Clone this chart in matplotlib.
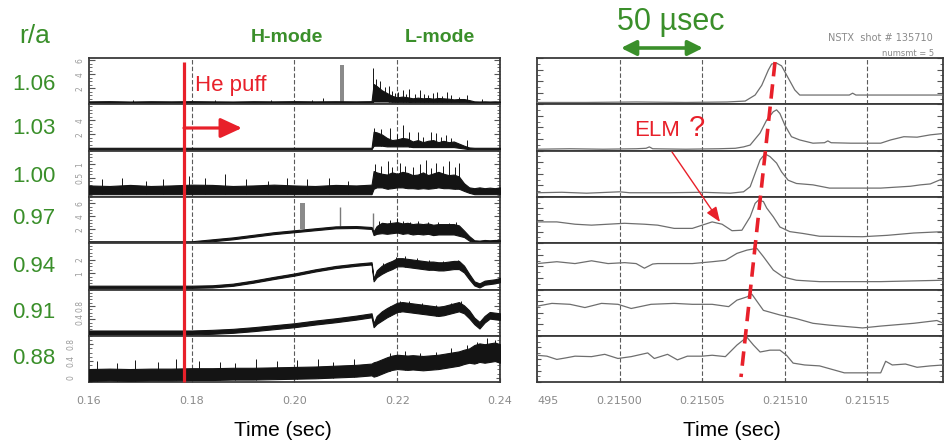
import numpy as np
import matplotlib
matplotlib.use('Agg')
import matplotlib.pyplot as plt
from matplotlib.ticker import AutoMinorLocator, MultipleLocator

W, H = 951, 441
TOP, STRIP = 58.0, 46.3
XL = (89, 500)
XR = (537, 943)

GREEN = '#3a8f2a'
RED = '#e8202a'
INK = '#141414'
FONT = ['Liberation Sans', 'DejaVu Sans']

radii = ['1.06', '1.03', '1.00', '0.97', '0.94', '0.91', '0.88']

# ---- left panel: full discharge, shared time base (s) ----
t_left = [0.160, 0.164, 0.168, 0.172, 0.176, 0.180, 0.184, 0.188, 0.192, 0.196,
          0.200, 0.204, 0.208, 0.212, 0.2150, 0.2154, 0.216, 0.217, 0.218, 0.219,
          0.220, 0.221, 0.222, 0.223, 0.224, 0.225, 0.226, 0.227, 0.228, 0.229,
          0.230, 0.231, 0.232, 0.233, 0.234, 0.235, 0.236, 0.237, 0.238, 0.239, 0.240]

# r/a = 1.06, 1.03, 1.00 : noise envelope
lo_106 = [-0.1] * 15 + [0.1, 0.1, 0.1, 0.1, 0.05, 0.05, 0.05, 0.05] + [0.0] * 11 + [-0.05] + [-0.1] * 6
hi_106 = [0.12, 0.15, 0.1, 0.14, 0.12, 0.15, 0.12, 0.1, 0.14, 0.12, 0.15, 0.12, 0.14, 0.12, 0.15,
          2.6, 2.3, 1.7, 1.3, 0.9, 0.7, 0.8, 0.7, 0.55, 0.65, 0.55, 0.6, 0.5, 0.6, 0.55,
          0.5, 0.4, 0.45, 0.45, 0.3, 0.12, 0.1, 0.12, 0.1, 0.12, 0.1]
lo_103 = [-0.1] * 15 + [0.4, 0.4, 0.4, 0.3, 0.3, 0.3, 0.3, 0.3] + [0.2] * 9 + [0.1, 0.0, -0.1] + [-0.1] * 6
hi_103 = [0.1] * 15 + [2.4, 2.3, 2.0, 1.5, 1.2, 1.3, 1.5, 1.4, 1.0, 1.2, 0.9, 1.1, 1.2, 0.9, 1.1,
                       0.9, 1.0, 0.7, 0.4, 0.15] + [0.1] * 6
lo_100 = [-0.1] * 15 + [0.1, 0.15, 0.15, 0.1, 0.12, 0.15, 0.15, 0.12, 0.12, 0.1, 0.12, 0.1, 0.12,
                        0.15, 0.12, 0.12, 0.1, 0.1, 0.02, -0.05] + [-0.1] * 6
hi_100 = [0.22, 0.2, 0.24, 0.2, 0.22, 0.25, 0.24, 0.2, 0.22, 0.25, 0.22, 0.2, 0.24, 0.22, 0.25,
          0.75, 0.7, 0.65, 0.62, 0.7, 0.65, 0.72, 0.68, 0.6, 0.62, 0.7, 0.6, 0.66, 0.72, 0.65,
          0.6, 0.62, 0.55, 0.3, 0.15, 0.12, 0.15, 0.12, 0.14, 0.12, 0.15]

# r/a = 0.97 .. 0.88 : mean level and noise half width
mid_097 = [0, 0, 0, 0, 0, 0, 0.3, 0.6, 1.0, 1.4, 1.7, 2.0, 2.3, 2.35, 2.2,
           1.4, 1.9, 2.2, 2.1, 2.2, 2.3, 2.1, 2.2, 2.0, 2.1, 2.0, 2.1, 1.9, 2.0, 2.0,
           2.0, 2.0, 1.8, 1.3, 0.6, 0.1, 0.05, 0.15, 0.1, 0.15, 0.12]
amp_097 = [0.15] * 15 + [0.3, 0.6] + [0.8] * 16 + [0.5, 0.35] + [0.2] * 6
mid_094 = [0, 0, 0, 0, 0, 0, 0.03, 0.15, 0.38, 0.65, 0.9, 1.2, 1.45, 1.62, 1.72,
           0.5, 0.95, 1.25, 1.45, 1.6, 1.8, 1.8, 1.75, 1.7, 1.65, 1.6, 1.55, 1.55, 1.5, 1.5,
           1.55, 1.6, 1.6, 1.3, 0.75, 0.25, 0.1, 0.3, 0.35, 0.4, 0.5]
amp_094 = [0.08] * 15 + [0.1, 0.25] + [0.3] * 16 + [0.25, 0.2] + [0.15] * 6
mid_091 = [0, 0, 0, 0, 0, 0, 0.02, 0.05, 0.1, 0.16, 0.22, 0.3, 0.37, 0.45, 0.52,
           0.22, 0.38, 0.5, 0.6, 0.68, 0.76, 0.78, 0.76, 0.74, 0.72, 0.7, 0.68, 0.66, 0.64, 0.66,
           0.7, 0.74, 0.78, 0.7, 0.55, 0.35, 0.22, 0.4, 0.52, 0.5, 0.48]
amp_091 = [0.06] * 16 + [0.12] + [0.14] * 16 + [0.12, 0.12] + [0.1] * 6
mid_088 = [0.07, 0.08, 0.07, 0.08, 0.08, 0.09, 0.09, 0.1, 0.1, 0.11,
           0.12, 0.13, 0.15, 0.17, 0.2, 0.2, 0.22, 0.27, 0.32, 0.36,
           0.38, 0.37, 0.36, 0.37, 0.36, 0.35, 0.36, 0.37, 0.38, 0.4,
           0.42, 0.44, 0.46, 0.5, 0.53, 0.56, 0.6, 0.58, 0.6, 0.62, 0.58]
amp_088 = [0.14] * 15 + [0.17] * 20 + [0.22] * 6

# isolated spikes (time, peak value)
spk_t_106 = [0.1685, 0.1785, 0.1845, 0.1955, 0.2035, 0.2056, 0.2152, 0.2158, 0.2166, 0.2176,
             0.2183, 0.2190, 0.2196, 0.2202, 0.2212, 0.2218, 0.2222, 0.2235, 0.2245, 0.2252,
             0.2260, 0.2270, 0.2277, 0.2288, 0.2297, 0.2305, 0.2320, 0.2335, 0.2365]
spk_h_106 = [0.3, 0.35, 0.3, 0.3, 0.35, 0.6, 4.9, 3.3, 3.0, 2.2,
             2.3, 1.6, 1.3, 1.5, 1.8, 1.2, 1.9, 1.1, 1.8, 1.2,
             1.0, 1.3, 1.5, 0.9, 1.5, 1.0, 0.8, 1.0, 0.4]
spk_t_103 = [0.2155, 0.2168, 0.2185, 0.2200, 0.2212, 0.2222, 0.2240, 0.2250, 0.2265, 0.2275,
             0.2285, 0.2295, 0.2305, 0.2335]
spk_h_103 = [2.9, 2.8, 2.9, 2.0, 3.4, 2.4, 2.4, 1.7, 2.3, 2.2, 1.6, 1.9, 1.5, 1.2]
spk_t_100 = [0.1625, 0.1665, 0.1710, 0.1745, 0.1795, 0.1825, 0.1865, 0.1905, 0.1948, 0.1985,
             0.2025, 0.2068, 0.2105, 0.2157, 0.2168, 0.2182, 0.2190, 0.2206, 0.2215, 0.2230,
             0.2245, 0.2255, 0.2265, 0.2275, 0.2290, 0.2300, 0.2312, 0.2320]
spk_h_100 = [0.45, 0.5, 0.4, 0.45, 0.55, 0.5, 0.65, 0.45, 0.4, 0.5,
             0.45, 0.5, 0.4, 1.0, 0.95, 1.1, 0.9, 1.05, 0.95, 0.9,
             1.0, 1.15, 0.85, 1.05, 0.95, 1.1, 0.9, 1.05]
spk_t_097 = [0.2165, 0.2185, 0.2200, 0.2212, 0.2225, 0.2240, 0.2260, 0.2280, 0.2300, 0.2315]
spk_h_097 = [3.3, 3.4, 3.7, 3.3, 3.2, 3.3, 3.1, 3.2, 3.0, 3.1]
spk_t_094 = [0.2172, 0.2198, 0.2215, 0.2238, 0.2262, 0.2290, 0.2318]
spk_h_094 = [1.75, 2.2, 2.25, 2.1, 1.95, 1.9, 2.0]
spk_t_091 = [0.2185, 0.2205, 0.2222, 0.2248, 0.2275, 0.2305, 0.2325]
spk_h_091 = [0.8, 0.95, 0.95, 0.9, 0.82, 0.9, 0.96]
spk_t_088 = [0.1615, 0.1655, 0.1690, 0.1735, 0.1770, 0.1815, 0.1855, 0.1885, 0.1925, 0.1965,
             0.2005, 0.2045, 0.2075, 0.2115, 0.2185, 0.2215, 0.2245, 0.2275, 0.2305, 0.2335,
             0.2355, 0.2375, 0.2390]
spk_h_088 = [0.4, 0.35, 0.42, 0.38, 0.45, 0.4, 0.38, 0.36, 0.45, 0.4,
             0.42, 0.45, 0.38, 0.46, 0.6, 0.65, 0.6, 0.62, 0.7, 0.78,
             0.85, 0.95, 0.9]

# grey bursts
bar_t_106, bar_h_106 = [0.20925], [5.3]
bar_t_097, bar_h_097 = [0.20155], [6.0]
thin_t_097, thin_h_097 = [0.2089, 0.2152], [5.5, 4.5]
BAR_W = 0.0009

# ---- right panel: zoom on the ELM, time in us after T0 ----
T0 = 0.21495
us_106 = [0, 30, 60, 90, 115, 126, 132, 136, 140, 142, 145, 148, 152, 156, 159, 175, 189, 191, 193, 215, 246]
v_106 = [0.04, 0.04, 0.05, 0.04, 0.05, 0.07, 0.2, 0.41, 0.74, 0.87, 0.89, 0.83, 0.57, 0.31, 0.2,
         0.2, 0.2, 0.24, 0.2, 0.2, 0.2]
us_103 = [0, 20, 40, 60, 66, 68, 70, 90, 110, 120, 125, 129, 135, 139, 143, 145, 147, 150, 154, 159,
          167, 174, 176, 178, 190, 208, 214, 222, 230, 238, 246]
v_103 = [0.03, 0.04, 0.03, 0.04, 0.05, 0.08, 0.04, 0.03, 0.04, 0.05, 0.08, 0.12, 0.38, 0.66, 0.84,
         0.88, 0.8, 0.55, 0.3, 0.23, 0.16, 0.17, 0.21, 0.17, 0.16, 0.16, 0.23, 0.3, 0.29, 0.34, 0.37]
us_100 = [0, 15, 30, 50, 56, 80, 100, 117, 125, 129, 132, 135, 138, 141, 145, 148, 152, 157, 167,
          177, 208, 226, 232, 238, 246]
v_100 = [0.09, 0.1, 0.08, 0.11, 0.09, 0.09, 0.1, 0.08, 0.11, 0.22, 0.51, 0.8, 0.93, 0.87, 0.73,
         0.54, 0.36, 0.29, 0.26, 0.19, 0.19, 0.23, 0.26, 0.28, 0.4]
us_097 = [0, 12, 23, 33, 43, 53, 65, 73, 83, 94, 100, 106, 112, 118, 124, 129, 132, 134, 137, 139,
          143, 147, 153, 161, 171, 197, 212, 228, 246]
v_097 = [0.46, 0.46, 0.41, 0.39, 0.41, 0.43, 0.41, 0.39, 0.32, 0.32, 0.39, 0.46, 0.41, 0.27, 0.28,
         0.57, 0.86, 0.93, 0.9, 0.76, 0.57, 0.35, 0.25, 0.21, 0.15, 0.14, 0.17, 0.22, 0.25]
us_094 = [0, 12, 23, 33, 43, 53, 60, 65, 70, 73, 83, 94, 106, 114, 121, 127, 133, 137, 143, 149,
          157, 171, 208, 246]
v_094 = [0.56, 0.6, 0.56, 0.62, 0.56, 0.58, 0.56, 0.46, 0.55, 0.56, 0.56, 0.56, 0.6, 0.63, 0.78,
         0.85, 0.89, 0.71, 0.42, 0.27, 0.2, 0.17, 0.17, 0.2]
us_091 = [0, 9, 20, 29, 39, 49, 57, 69, 83, 94, 106, 116, 121, 127, 130, 134, 137, 147, 157, 167,
          177, 197, 208, 228, 242, 246]
v_091 = [0.64, 0.7, 0.68, 0.61, 0.7, 0.68, 0.59, 0.68, 0.7, 0.68, 0.68, 0.63, 0.77, 0.84, 0.9,
         0.7, 0.55, 0.45, 0.37, 0.27, 0.23, 0.17, 0.21, 0.27, 0.33, 0.27]
us_088 = [0, 6, 12, 17, 23, 33, 41, 49, 57, 67, 71, 79, 85, 91, 100, 106, 114, 121, 127, 131,
          135, 141, 147, 151, 155, 162, 171, 179, 186, 197, 208, 211, 215, 223, 230, 238, 246]
v_088 = [0.58, 0.56, 0.49, 0.52, 0.56, 0.55, 0.6, 0.51, 0.55, 0.63, 0.51, 0.6, 0.48, 0.56, 0.56,
         0.58, 0.55, 0.8, 0.97, 0.8, 0.65, 0.69, 0.69, 0.58, 0.41, 0.37, 0.35, 0.27, 0.2, 0.2,
         0.2, 0.45, 0.37, 0.39, 0.32, 0.35, 0.37]

left_ticks = [0.16, 0.18, 0.20, 0.22, 0.24]
left_ticklabels = ['0.16', '0.18', '0.20', '0.22', '0.24']
right_ticks = [0.21495, 0.21500, 0.21505, 0.21510, 0.21515]
right_ticklabels = ['495', '0.21500', '0.21505', '0.21510', '0.21515']


def strip_ax(xs, i):
    top = TOP + i * STRIP
    ax = fig.add_axes([xs[0] / W, 1 - (top + STRIP) / H, (xs[1] - xs[0]) / W, STRIP / H])
    for sp in ax.spines.values():
        sp.set_color('#3a3a3a')
        sp.set_linewidth(1.3)
    ax.tick_params(which='both', direction='in', left=True, right=True, top=False,
                   bottom=False, labelbottom=False, color='#555555')
    ax.tick_params(which='major', length=4, width=0.8)
    ax.tick_params(which='minor', length=2.5, width=0.6)
    return ax


fig = plt.figure(figsize=(W / 100, H / 100), dpi=100)

lt = np.array(t_left)
left = [
    (lo_106, hi_106, spk_t_106, spk_h_106, (-0.3, 6.3), [2, 4, 6]),
    (lo_103, hi_103, spk_t_103, spk_h_103, (-0.3, 6.3), [2, 4]),
    (lo_100, hi_100, spk_t_100, spk_h_100, (-0.2, 1.5), [0.5, 1]),
    (np.subtract(mid_097, amp_097), np.add(mid_097, amp_097), spk_t_097, spk_h_097, (-0.15, 7), [2, 4, 6]),
    (np.subtract(mid_094, amp_094), np.add(mid_094, amp_094), spk_t_094, spk_h_094, (-0.2, 3.2), [1, 2]),
    (np.subtract(mid_091, amp_091), np.add(mid_091, amp_091), spk_t_091, spk_h_091, (-0.1, 1.3), [0.4, 0.8]),
    (np.subtract(mid_088, amp_088), np.add(mid_088, amp_088), spk_t_088, spk_h_088, (-0.1, 1.0), [0, 0.4, 0.8]),
]

for i, (lo, hi, st, sh, ylim, yt) in enumerate(left):
    ax = strip_ax(XL, i)
    for t in left_ticks[1:-1]:
        ax.axvline(t, color='#5a5a5a', lw=0.8, ls=(0, (4, 2)), zorder=1)
    if i == 0:
        ax.bar(bar_t_106, bar_h_106, width=BAR_W, color='#8a8a8a', zorder=2)
    if i == 3:
        base = np.interp(bar_t_097, lt, hi)
        ax.bar(bar_t_097, np.subtract(bar_h_097, base), width=BAR_W, bottom=base,
               color='#8a8a8a', zorder=2)
        ax.vlines(thin_t_097, np.interp(thin_t_097, lt, hi), thin_h_097, color='#7a7a7a', lw=1.0)
    ax.fill_between(lt, lo, hi, color=INK, lw=0.8, edgecolor=INK, zorder=3)
    ax.vlines(st, np.interp(st, lt, lo), sh, color=INK, lw=0.7, zorder=3)
    ax.set_xlim(0.16, 0.24)
    ax.set_ylim(ylim)
    ax.set_xticks(left_ticks)
    ax.set_yticks(yt)
    ax.set_yticklabels([f'{v:g}' for v in yt], rotation=90, fontsize=5.5,
                       color='#9a9a9a', va='center')
    ax.yaxis.set_minor_locator(AutoMinorLocator(4))
    if i == 6:
        ax.tick_params(which='major', bottom=True, labelbottom=True, length=3, pad=10)
        ax.set_xticklabels(left_ticklabels, fontsize=8, color='#8a8a8a')

right = [(us_106, v_106), (us_103, v_103), (us_100, v_100), (us_097, v_097),
         (us_094, v_094), (us_091, v_091), (us_088, v_088)]

for i, (us, v) in enumerate(right):
    ax = strip_ax(XR, i)
    for t in right_ticks[1:]:
        ax.axvline(t, color='#5a5a5a', lw=0.8, ls=(0, (4, 2)), zorder=1)
    ax.plot(T0 + np.array(us) * 1e-6, v, color='#6e6e6e', lw=0.9, zorder=3)
    ax.set_xlim(T0, T0 + 245.7e-6)
    ax.set_ylim(0, 1)
    ax.set_xticks(right_ticks)
    ax.yaxis.set_major_locator(MultipleLocator(0.25))
    ax.yaxis.set_minor_locator(MultipleLocator(0.125))
    ax.tick_params(labelleft=False)
    if i == 6:
        ax.tick_params(which='major', bottom=True, labelbottom=True, length=3, pad=10)
        labs = ax.set_xticklabels(right_ticklabels, fontsize=8, color='#8a8a8a')
        labs[0].set_ha('left')

# annotation layer in pixel coordinates
ov = fig.add_axes([0, 0, 1, 1])
ov.set_xlim(0, W)
ov.set_ylim(H, 0)
ov.axis('off')
ov.patch.set_alpha(0)

ov.text(35, 36, 'r/a', color=GREEN, fontsize=19, ha='center', va='center', family=FONT)
for lab, y in zip(radii, [85, 128, 176, 219, 266, 312, 358]):
    ov.text(34, y, lab, color=GREEN, fontsize=16, ha='center', va='center', family=FONT)

ov.text(287, 38, 'H-mode', color=GREEN, fontsize=14, fontweight='bold', ha='center', va='center', family=FONT)
ov.text(440, 38, 'L-mode', color=GREEN, fontsize=14, fontweight='bold', ha='center', va='center', family=FONT)

ov.plot([184, 184], [62, 382], color=RED, lw=2.3, solid_capstyle='butt')
ov.annotate('', xy=(242, 128), xytext=(184, 128),
            arrowprops=dict(arrowstyle='-|>,head_length=1.3,head_width=0.6', lw=2.3,
                            color=RED, shrinkA=0, shrinkB=0))
ov.text(195, 85, 'He puff', color=RED, fontsize=16, ha='left', va='center', family=FONT)

ov.text(671, 22, '50 \u00b5sec', color=GREEN, fontsize=22, ha='center', va='center', family=FONT)
ov.annotate('', xy=(703, 48), xytext=(621, 48),
            arrowprops=dict(arrowstyle='<|-|>,head_length=0.9,head_width=0.45', lw=2.6,
                            color=GREEN, shrinkA=0, shrinkB=0))

ov.text(657, 131, 'ELM', color=RED, fontsize=16, ha='center', va='center', family=FONT)
ov.text(697, 128, '?', color=RED, fontsize=21, ha='center', va='center', family=FONT)
ov.annotate('', xy=(720, 222), xytext=(672, 152),
            arrowprops=dict(arrowstyle='-|>,head_length=0.9,head_width=0.35', lw=1.0,
                            color=RED, shrinkA=0, shrinkB=0))
ov.plot([775, 741], [62, 377], color=RED, lw=2.6, dashes=(4, 2.2))

ov.text(283, 430, 'Time (sec)', fontsize=15, ha='center', va='center', family=FONT)
ov.text(732, 430, 'Time (sec)', fontsize=15, ha='center', va='center', family=FONT)

ov.text(828, 38, 'NSTX  shot # 135710', fontsize=7, color='#8a8a8a', ha='left', va='center')
ov.text(882, 53, 'numsmt = 5', fontsize=6, color='#8a8a8a', ha='left', va='center')

fig.savefig('out.png', dpi=100)
